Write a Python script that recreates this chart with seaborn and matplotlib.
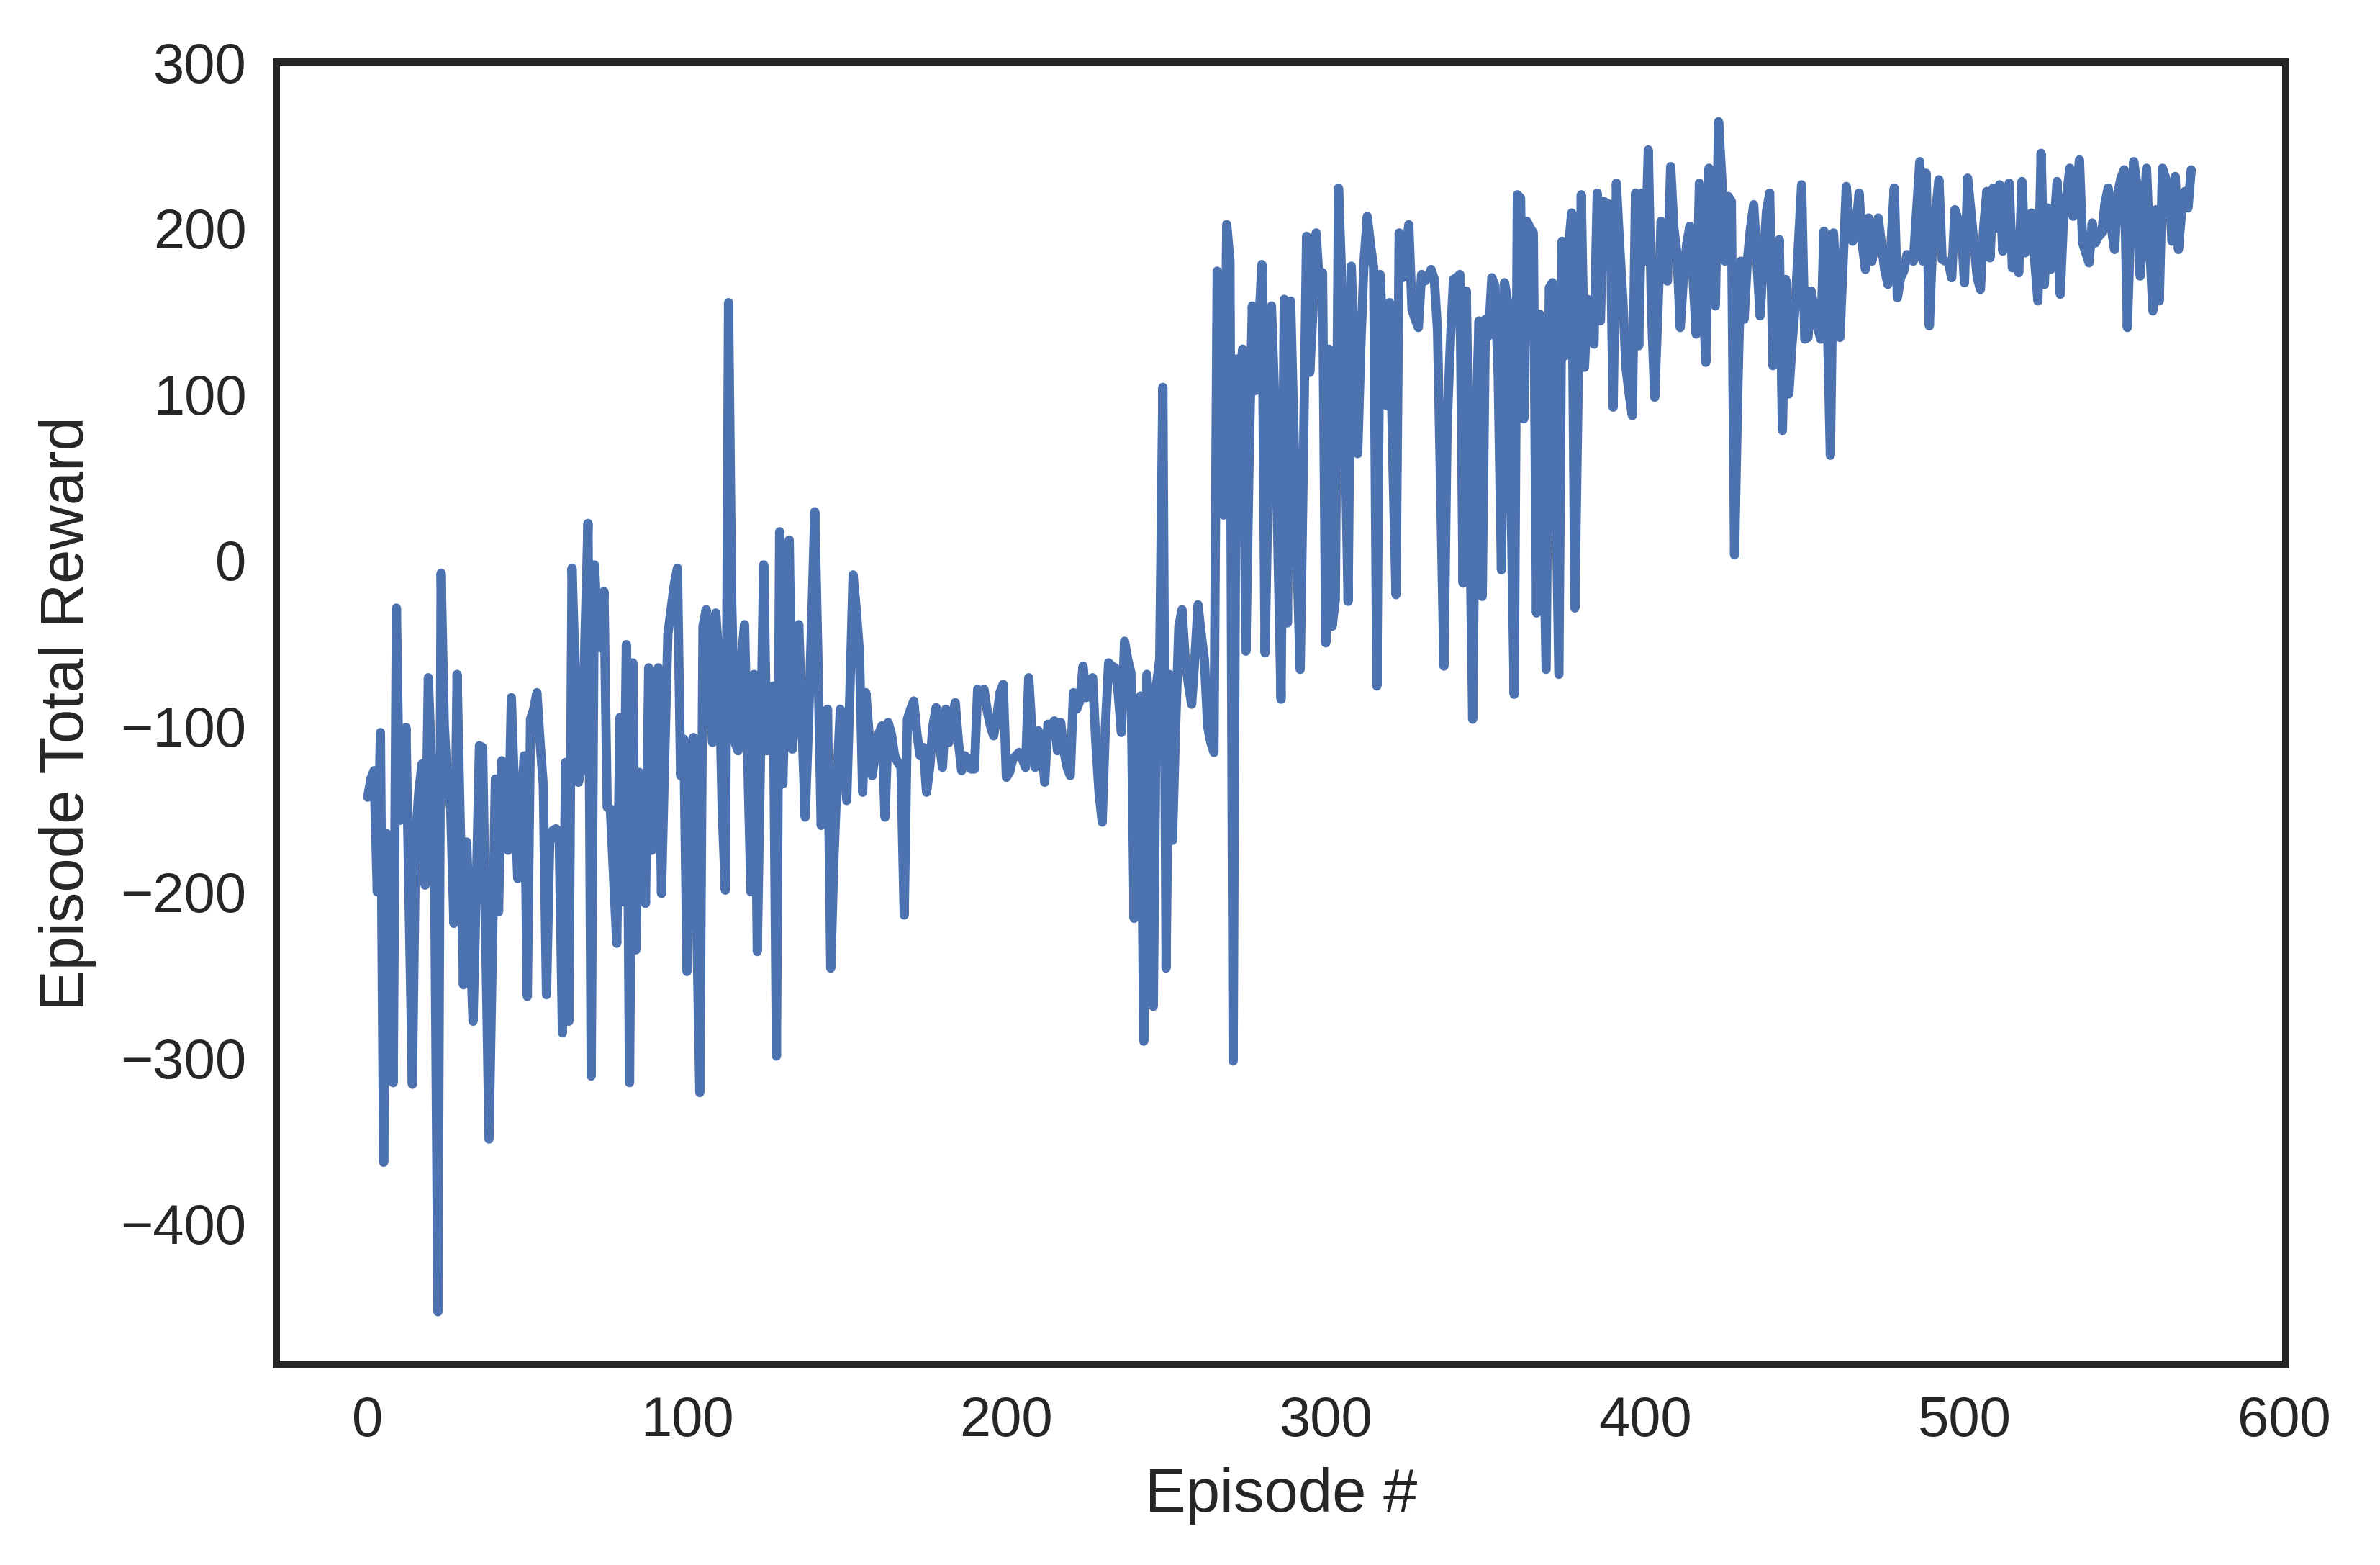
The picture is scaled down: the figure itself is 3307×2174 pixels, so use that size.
import numpy as np
import pandas as pd
import matplotlib
matplotlib.use("Agg")
import matplotlib.pyplot as plt
import seaborn as sns

# total reward per episode
rewards_0_99 = [
    -143, -132, -127, -200, -104, -363, -165, -240, -315, -29,
    -157, -155, -101, -210, -316, -168, -140, -123, -196, -71,
    -125, -200, -453, -8, -100, -135, -150, -219, -69, -160,
    -256, -170, -225, -278, -200, -112, -113, -230, -349, -240,
    -132, -212, -121, -150, -175, -83, -140, -192, -150, -118,
    -263, -96, -90, -80, -110, -136, -262, -170, -163, -162,
    -170, -285, -122, -278, -5, -70, -134, -125, -50, 22,
    -311, -3, -40, -53, -19, -149, -150, -190, -231, -95,
    -206, -51, -315, -62, -235, -128, -170, -207, -65, -175,
    -110, -65, -201, -120, -45, -30, -15, -5, -130, -108,
]
rewards_100_199 = [
    -248, -115, -107, -215, -321, -40, -30, -80, -110, -32,
    -60, -150, -199, 155, -26, -110, -115, -60, -39, -120,
    -200, -69, -236, -120, -3, -115, -100, -76, -299, 17,
    -135, -60, 12, -114, -80, -39, -100, -155, -100, -40,
    29, -60, -160, -130, -90, -246, -180, -130, -90, -120,
    -145, -80, -9, -30, -56, -140, -80, -105, -130, -115,
    -105, -100, -155, -98, -105, -118, -122, -125, -214, -96,
    -90, -85, -105, -118, -113, -140, -125, -100, -89, -110,
    -125, -90, -110, -95, -86, -110, -127, -118, -120, -126,
    -126, -78, -85, -78, -91, -100, -106, -95, -80, -75,
]
rewards_200_299 = [
    -131, -128, -120, -118, -116, -120, -125, -71, -103, -125,
    -103, -110, -134, -99, -100, -97, -115, -98, -115, -125,
    -130, -80, -90, -85, -64, -83, -78, -71, -110, -140,
    -158, -100, -62, -64, -65, -80, -104, -49, -60, -68,
    -216, -85, -82, -290, -69, -120, -269, -75, -60, 104,
    -246, -69, -169, -100, -40, -30, -60, -75, -87, -60,
    -27, -45, -60, -100, -110, -116, 174, 100, 27, 202,
    180, -302, 121, 110, 127, -55, 60, 153, 102, 140,
    178, -56, 50, 153, 97, 10, -84, 157, -38, 156,
    80, 0, -66, 60, 195, 113, 150, 197, 165, 173,
]
rewards_300_399 = [
    -50, 127, -40, -24, 224, 169, 79, -25, 177, 120,
    64, 130, 180, 207, 190, 176, -76, 172, 130, 93,
    155, 60, -21, 197, 170, 185, 202, 151, 145, 140,
    172, 168, 170, 175, 169, 138, 40, -64, 80, 130,
    169, 170, 172, -14, 162, 40, -96, 80, 144, -22,
    145, 135, 170, 165, 110, -6, 167, 155, 40, -81,
    220, 218, 85, 204, 200, 197, -32, 148, 40, -66,
    164, 167, 50, -69, 192, 123, 188, 209, -29, 100,
    220, 116, 157, 140, 130, 221, 144, 216, 215, 214,
    92, 227, 190, 158, 116, 100, 87, 221, 129, 221,
]
rewards_400_499 = [
    180, 247, 150, 98, 150, 204, 180, 168, 237, 200,
    184, 140, 170, 190, 201, 170, 136, 227, 170, 119,
    236, 200, 153, 264, 230, 180, 219, 216, 3, 100,
    180, 145, 180, 200, 214, 180, 147, 180, 210, 221,
    117, 150, 193, 78, 169, 100, 130, 153, 190, 226,
    133, 134, 162, 150, 140, 133, 198, 150, 63, 197,
    160, 134, 180, 225, 200, 192, 200, 221, 190, 175,
    206, 180, 190, 206, 190, 175, 166, 190, 224, 158,
    170, 174, 184, 182, 180, 210, 240, 180, 233, 141,
    190, 210, 229, 181, 180, 179, 170, 211, 205, 200,
]
rewards_500_571 = [
    167, 230, 210, 190, 170, 163, 200, 222, 182, 224,
    200, 226, 186, 210, 227, 176, 190, 173, 228, 185,
    200, 209, 180, 156, 245, 166, 212, 175, 200, 228,
    160, 205, 220, 236, 207, 220, 241, 191, 185, 179,
    203, 191, 195, 197, 215, 224, 200, 187, 221, 230,
    235, 140, 200, 240, 226, 171, 200, 236, 190, 150,
    211, 156, 236, 230, 223, 192, 231, 187, 210, 222,
    212, 235,
]

rewards = (rewards_0_99 + rewards_100_199 + rewards_200_299
           + rewards_300_399 + rewards_400_499 + rewards_500_571)
df = pd.DataFrame({"episode": np.arange(len(rewards)), "reward": rewards})

sns.set_style("white")
plt.rcParams['font.family'] = ['Liberation Sans', 'DejaVu Sans']

dpi = 400
fig, ax = plt.subplots(figsize=(3307 / dpi, 2174 / dpi), dpi=dpi)
fig.subplots_adjust(left=0.1161, right=0.9604, top=0.9604, bottom=0.1279)

sns.lineplot(data=df, x="episode", y="reward", estimator=None,
             color="#4C72B0", linewidth=2.3, ax=ax)

ax.set_xlim(-28.6, 600.6)
ax.set_ylim(-485, 300)
ax.set_xticks([0, 100, 200, 300, 400, 500, 600])
ax.set_yticks([-400, -300, -200, -100, 0, 100, 200, 300])
ax.tick_params(labelsize=14, colors="#262626", pad=4)
ax.set_xlabel("Episode #", fontsize=15.3, color="#262626", labelpad=5)
ax.set_ylabel("Episode Total Reward", fontsize=15.3, color="#262626", labelpad=6)
for sp in ax.spines.values():
    sp.set_linewidth(1.8)
    sp.set_color("#262626")

fig.savefig("out.png", dpi=dpi)
